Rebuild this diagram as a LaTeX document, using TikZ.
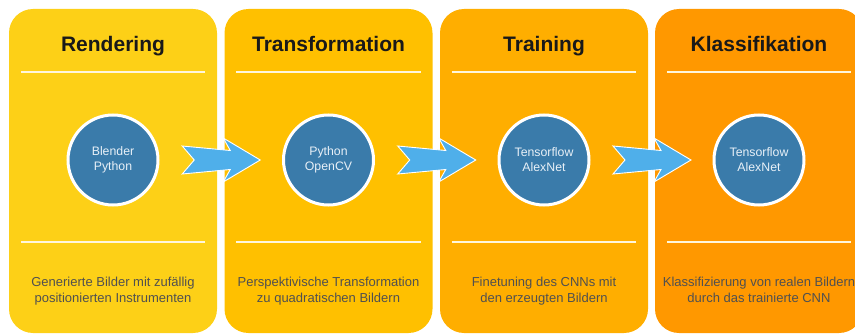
\documentclass[tikz,border=0pt]{standalone}
\usepackage{fontspec}
\setmainfont{Liberation Sans}
\usetikzlibrary{calc}
\definecolor{stageA}{HTML}{FDD017}
\definecolor{stageB}{HTML}{FFC000}
\definecolor{stageC}{HTML}{FFAE00}
\definecolor{stageD}{HTML}{FF9800}
\definecolor{toolblue}{HTML}{3A7BAA}
\definecolor{tooltext}{HTML}{E8F0F7}
\definecolor{arrowblue}{HTML}{4FAFEA}
\definecolor{desctext}{HTML}{505050}
\definecolor{rulecream}{HTML}{FFF6DC}
\begin{document}
\begin{tikzpicture}[x=1pt,y=-1pt,
  panel/.style={rectangle, rounded corners=24pt, inner sep=0pt, draw=none,
    minimum width=208pt, minimum height=324pt},
  title/.style={anchor=base, text=black!90, font=\fontsize{21}{25}\selectfont\bfseries},
  sepline/.style={draw=rulecream, line width=1.6pt},
  tool/.style={circle, fill=toolblue, draw=white, line width=3pt, minimum size=90pt,
    inner sep=0pt, align=center, text=tooltext, font=\fontsize{12.3}{15}\selectfont},
  desc/.style={align=center, text=desctext, inner sep=0pt, font=\fontsize{13}{16}\selectfont,
    execute at begin node=\strut, execute at end node=\strut},
  arrowfill/.style={fill=arrowblue, draw=white, line width=0.9pt, line join=miter},
  flowarrow/.pic={
    \path[arrowfill] (-38.5,-14) -- (-26.5,0) -- (-38.5,14) -- (9.5,9.5) -- (2.5,22)
      -- (39.5,0) -- (2.5,-22) -- (9.5,-9.5) -- cycle;
  }]
  \useasboundingbox (0,0) rectangle (855,334);
  \clip (0,0) rectangle (855,334);

  % the four stages
  \foreach \n/\cx/\col/\head/\tools/\text in {
      1/113/stageA/Rendering/{Blender\\Python}/{Generierte Bilder mit zufällig\\positionierten Instrumenten},
      2/328.5/stageB/Transformation/{Python\\OpenCV}/{Perspektivische Transformation\\zu quadratischen Bildern},
      3/544/stageC/Training/{Tensorflow\\AlexNet}/{Finetuning des CNNs mit\\den erzeugten Bildern},
      4/759/stageD/Klassifikation/{Tensorflow\\AlexNet}/{Klassifizierung von realen Bildern\\durch das trainierte CNN}} {
    \node[panel, fill=\col] (p\n) at (\cx,171) {};
    \node[title] (t\n) at (\cx,52) {\head};
    \draw[sepline] ([xshift=12pt,yshift=-63pt]p\n.north west) -- ([xshift=-12pt,yshift=-63pt]p\n.north east);
    \draw[sepline] ([xshift=12pt,yshift=-233pt]p\n.north west) -- ([xshift=-12pt,yshift=-233pt]p\n.north east);
    \node[tool] (c\n) at (\cx,160) {\tools};
    \node[desc] (d\n) at (\cx,292) {\text};
  }

  % arrows across the gaps between stages
  \coordinate (g1) at ($(p1.east)!0.5!(p2.west)$);
  \coordinate (g2) at ($(p2.east)!0.5!(p3.west)$);
  \coordinate (g3) at ($(p3.east)!0.5!(p4.west)$);
  \foreach \g in {g1,g2,g3} {
    \path (\g |- c1) pic {flowarrow};
  }
\end{tikzpicture}
\end{document}
